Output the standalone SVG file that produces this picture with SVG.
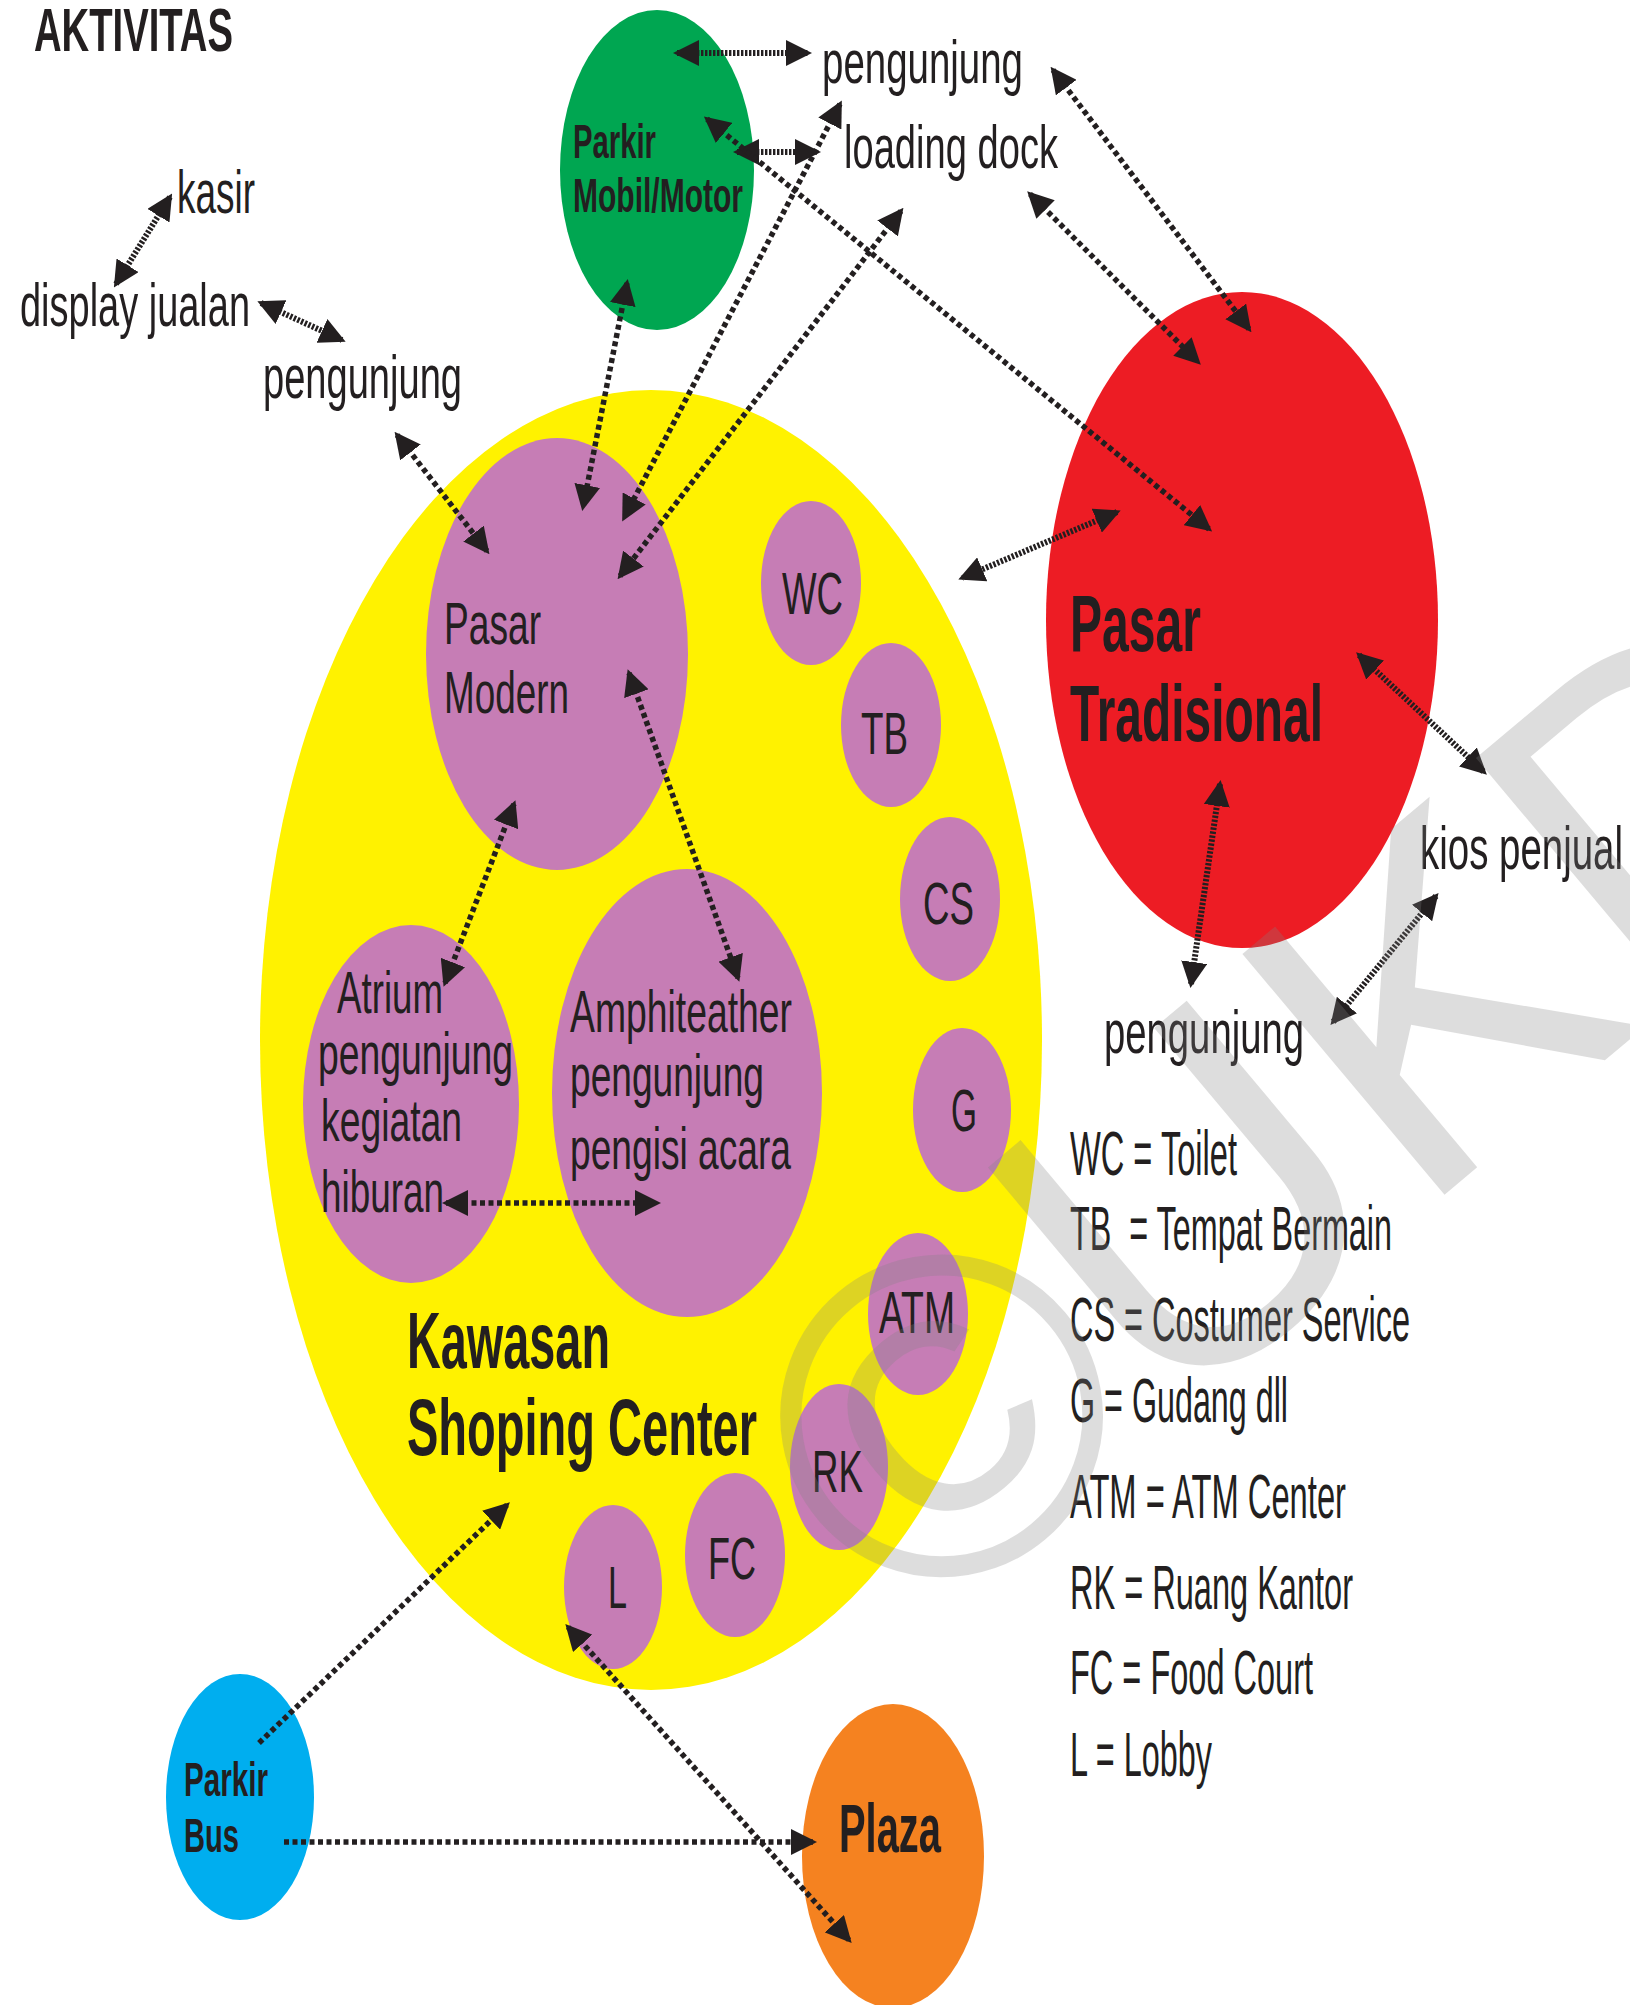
<svg xmlns="http://www.w3.org/2000/svg" width="1630" height="2005" viewBox="0 0 1630 2005">
  <defs>
    <style>
      text { font-family: 'Liberation Sans', Arial, sans-serif; fill: #231f20; }
      .b { font-weight: bold; }
      .r62 { font-size: 62px; }
      .sub { font-size: 60px; }
      .leg { font-size: 63px; }
      .park { font-size: 48px; font-weight: bold; }
      .big { font-size: 80px; font-weight: bold; }
      .purple { fill: #c67db5; }
      .dot, .fine { fill: none; stroke: #231f20; marker-end: url(#ah); }
      .dot { stroke-width: 5.5; stroke-dasharray: 5 3.5; }
      .fine { stroke-width: 6; stroke-dasharray: 2.4 1.6; }
      .two { marker-start: url(#ah); }
      .wm { font-size: 457px; fill: #808080; fill-opacity: 0.27; }
    </style>
    <marker id="ah" viewBox="0 0 26 26" refX="22" refY="13" markerWidth="26" markerHeight="26" markerUnits="userSpaceOnUse" orient="auto-start-reverse">
      <path d="M0,0 L26,13 L0,26 Z" fill="#231f20"/>
    </marker>
  </defs>

  <rect width="1630" height="2005" fill="#ffffff"/>

  <!-- title -->
  <text id="title" class="b" x="34" y="51" font-size="62" textLength="199" lengthAdjust="spacingAndGlyphs">AKTIVITAS</text>

  <!-- shopping area and its rooms -->
  <g id="kawasan">
    <ellipse cx="651" cy="1040" rx="391" ry="650" fill="#fff200"/>
    <text class="big" x="407" y="1368" textLength="203" lengthAdjust="spacingAndGlyphs">Kawasan</text>
    <text class="big" x="407" y="1455" textLength="350" lengthAdjust="spacingAndGlyphs">Shoping Center</text>
  </g>
  <g id="pasar-modern">
    <ellipse class="purple" cx="557" cy="654" rx="131" ry="216"/>
    <text class="sub" x="444" y="644" textLength="97" lengthAdjust="spacingAndGlyphs">Pasar</text>
    <text class="sub" x="444" y="713" textLength="125" lengthAdjust="spacingAndGlyphs">Modern</text>
  </g>
  <g id="atrium">
    <ellipse class="purple" cx="411" cy="1104" rx="108" ry="179"/>
    <text class="sub" x="337" y="1013" textLength="106" lengthAdjust="spacingAndGlyphs">Atrium</text>
    <text class="sub" x="318" y="1074" textLength="195" lengthAdjust="spacingAndGlyphs">pengunjung</text>
    <text class="sub" x="321" y="1141" textLength="141" lengthAdjust="spacingAndGlyphs">kegiatan</text>
    <text class="sub" x="321" y="1212" textLength="123" lengthAdjust="spacingAndGlyphs">hiburan</text>
  </g>
  <g id="amphiteather">
    <ellipse class="purple" cx="687" cy="1093" rx="135" ry="224"/>
    <text class="sub" x="570" y="1032" textLength="222" lengthAdjust="spacingAndGlyphs">Amphiteather</text>
    <text class="sub" x="570" y="1096" textLength="194" lengthAdjust="spacingAndGlyphs">pengunjung</text>
    <text class="sub" x="570" y="1169" textLength="221" lengthAdjust="spacingAndGlyphs">pengisi acara</text>
  </g>
  <g id="wc">
    <ellipse class="purple" cx="811" cy="583" rx="50" ry="82"/>
    <text class="sub" x="782" y="614" textLength="61" lengthAdjust="spacingAndGlyphs">WC</text>
  </g>
  <g id="tb">
    <ellipse class="purple" cx="891" cy="725" rx="50" ry="82"/>
    <text class="sub" x="861" y="754" textLength="47" lengthAdjust="spacingAndGlyphs">TB</text>
  </g>
  <g id="cs">
    <ellipse class="purple" cx="950" cy="899" rx="50" ry="82"/>
    <text class="sub" x="923" y="924" textLength="51" lengthAdjust="spacingAndGlyphs">CS</text>
  </g>
  <g id="g">
    <ellipse class="purple" cx="962" cy="1110" rx="49" ry="82"/>
    <text class="sub" x="951" y="1131" textLength="26" lengthAdjust="spacingAndGlyphs">G</text>
  </g>
  <g id="atm">
    <ellipse class="purple" cx="918" cy="1314" rx="50" ry="81"/>
    <text class="sub" x="879" y="1333" textLength="76" lengthAdjust="spacingAndGlyphs">ATM</text>
  </g>
  <g id="rk">
    <ellipse class="purple" cx="839" cy="1467" rx="49" ry="83"/>
    <text class="sub" x="812" y="1492" textLength="51" lengthAdjust="spacingAndGlyphs">RK</text>
  </g>
  <g id="fc">
    <ellipse class="purple" cx="735" cy="1555" rx="50" ry="82"/>
    <text class="sub" x="708" y="1579" textLength="48" lengthAdjust="spacingAndGlyphs">FC</text>
  </g>
  <g id="l">
    <ellipse class="purple" cx="613" cy="1587" rx="49" ry="82"/>
    <text class="sub" x="608" y="1608" textLength="19" lengthAdjust="spacingAndGlyphs">L</text>
  </g>

  <!-- other zones -->
  <g id="parkir-mobil">
    <ellipse cx="657" cy="170" rx="97" ry="160" fill="#00a651"/>
    <text class="park" x="573" y="158" textLength="83" lengthAdjust="spacingAndGlyphs">Parkir</text>
    <text class="park" x="573" y="212" textLength="170" lengthAdjust="spacingAndGlyphs">Mobil/Motor</text>
  </g>
  <g id="pasar-tradisional">
    <ellipse cx="1242" cy="620" rx="196" ry="328" fill="#ed1c24"/>
    <text class="big" x="1070" y="651" textLength="131" lengthAdjust="spacingAndGlyphs">Pasar</text>
    <text class="big" x="1070" y="741" textLength="253" lengthAdjust="spacingAndGlyphs">Tradisional</text>
  </g>
  <g id="parkir-bus">
    <ellipse cx="240" cy="1797" rx="74" ry="123" fill="#00aeef"/>
    <text class="park" x="184" y="1796" textLength="84" lengthAdjust="spacingAndGlyphs">Parkir</text>
    <text class="park" x="184" y="1852" textLength="55" lengthAdjust="spacingAndGlyphs">Bus</text>
  </g>
  <g id="plaza">
    <ellipse cx="893" cy="1856" rx="91" ry="152" fill="#f58220"/>
    <text class="b" x="839" y="1852" font-size="68" textLength="102" lengthAdjust="spacingAndGlyphs">Plaza</text>
  </g>

  <!-- activity labels -->
  <g id="kasir"><text class="r62" x="177" y="213" textLength="78" lengthAdjust="spacingAndGlyphs">kasir</text></g>
  <g id="display-jualan"><text class="r62" x="20" y="326" textLength="230" lengthAdjust="spacingAndGlyphs">display jualan</text></g>
  <g id="pengunjung-1"><text class="r62" x="263" y="398" textLength="199" lengthAdjust="spacingAndGlyphs">pengunjung</text></g>
  <g id="pengunjung-2"><text class="r62" x="822" y="83" textLength="201" lengthAdjust="spacingAndGlyphs">pengunjung</text></g>
  <g id="loading-dock"><text class="r62" x="844" y="168" textLength="214" lengthAdjust="spacingAndGlyphs">loading dock</text></g>
  <g id="kios-penjual"><text class="r62" x="1420" y="869" textLength="203" lengthAdjust="spacingAndGlyphs">kios penjual</text></g>
  <g id="pengunjung-3"><text class="r62" x="1104" y="1053" textLength="200" lengthAdjust="spacingAndGlyphs">pengunjung</text></g>

  <!-- legend -->
  <g id="legend">
    <text class="leg" x="1070" y="1175" textLength="167" lengthAdjust="spacingAndGlyphs">WC = Toilet</text>
    <text class="leg" x="1070" y="1250" textLength="322" lengthAdjust="spacingAndGlyphs" xml:space="preserve">TB  = Tempat Bermain</text>
    <text class="leg" x="1070" y="1341" textLength="340" lengthAdjust="spacingAndGlyphs">CS = Costumer Service</text>
    <text class="leg" x="1070" y="1422" textLength="218" lengthAdjust="spacingAndGlyphs">G = Gudang dll</text>
    <text class="leg" x="1070" y="1518" textLength="276" lengthAdjust="spacingAndGlyphs">ATM = ATM Center</text>
    <text class="leg" x="1070" y="1609" textLength="283" lengthAdjust="spacingAndGlyphs">RK = Ruang Kantor</text>
    <text class="leg" x="1070" y="1694" textLength="243" lengthAdjust="spacingAndGlyphs">FC = Food Court</text>
    <text class="leg" x="1070" y="1776" textLength="142" lengthAdjust="spacingAndGlyphs">L = Lobby</text>
  </g>

  <!-- connectors -->
  <g id="connectors">
    <line class="fine two" x1="116" y1="284" x2="170" y2="197"/>
    <line class="fine two" x1="261" y1="303" x2="342" y2="340"/>
    <line class="fine two" x1="677" y1="53" x2="808" y2="53"/>
    <line class="fine two" x1="737" y1="152" x2="817" y2="152"/>
    <line class="dot two" x1="707" y1="119" x2="1209" y2="529"/>
    <line class="dot two" x1="1053" y1="70" x2="1249" y2="329"/>
    <line class="dot two" x1="1030" y1="194" x2="1198" y2="362"/>
    <line class="dot two" x1="901" y1="211" x2="620" y2="576"/>
    <line class="dot two" x1="840" y1="104" x2="624" y2="518"/>
    <line class="dot two" x1="627" y1="283" x2="583" y2="507"/>
    <line class="dot two" x1="397" y1="435" x2="487" y2="551"/>
    <line class="dot two" x1="514" y1="804" x2="445" y2="983"/>
    <line class="dot two" x1="629" y1="673" x2="738" y2="978"/>
    <line class="dot two" x1="446" y1="1203" x2="657" y2="1203"/>
    <line class="fine two" x1="1117" y1="512" x2="962" y2="578"/>
    <line class="fine two" x1="1359" y1="655" x2="1484" y2="772"/>
    <line class="fine two" x1="1220" y1="784" x2="1191" y2="984"/>
    <line class="fine two" x1="1436" y1="896" x2="1333" y2="1022"/>
    <line class="dot" x1="259" y1="1743" x2="507" y2="1505"/>
    <line class="dot" x1="284" y1="1842" x2="813" y2="1842"/>
    <line class="dot two" x1="568" y1="1627" x2="849" y2="1940"/>
  </g>

  <!-- copyright mark across the page -->
  <g id="watermark">
    <text class="wm" x="914" y="1645" font-size="600" transform="rotate(-40 914 1645)">©</text>
    <text class="wm" x="1163" y="1431" transform="rotate(-40 1163 1431)">UKD</text>
  </g>
</svg>
